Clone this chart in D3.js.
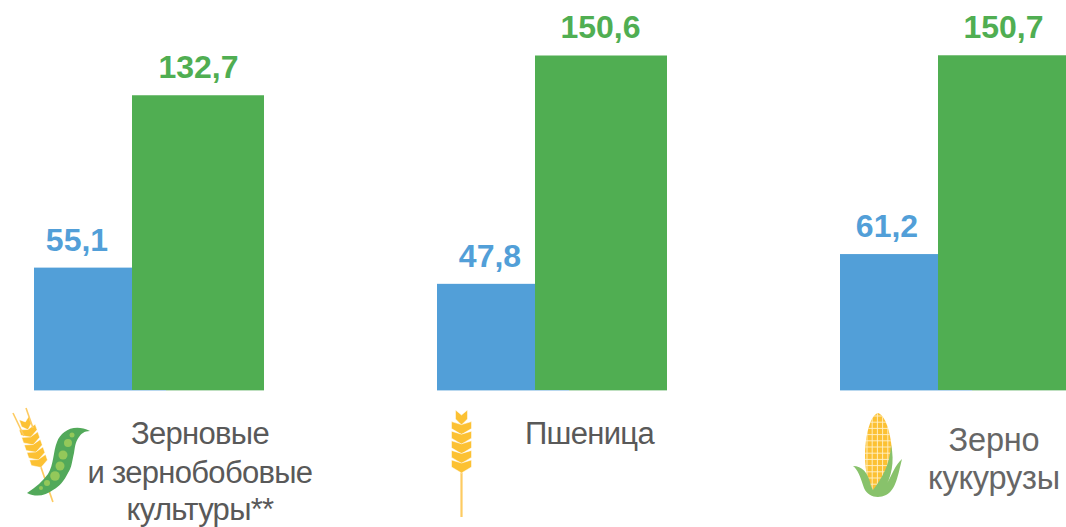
<!DOCTYPE html>
<html><head><meta charset="utf-8">
<script src="https://cdn.jsdelivr.net/npm/d3@7"></script>
<style>html,body{margin:0;padding:0;background:#fff;overflow:hidden}svg{display:block;font-family:"Liberation Sans",Arial,sans-serif}</style>
</head><body><svg id="c" width="1066" height="527"></svg>
<script>
const categories = ["Зерновые и зернобобовые культуры**", "Пшеница", "Зерно кукурузы"];
const seriesBlue = [55.1, 47.8, 61.2];
const seriesGreen = [132.7, 150.6, 150.7];
const labelLines = [["Зерновые","и зернобобовые","культуры**"],["Пшеница"],["Зерно","кукурузы"]];

const colorBlue="#529fd8", colorGreen="#50ae52", textGrey="#595959";
const svg=d3.select("#c");
const y=d3.scaleLinear().domain([0,150.6]).range([390,55.5]);
const x=d3.scaleLinear().domain([0,2]).range([34,840]);
const fmt=v=>v.toFixed(1).replace(".",",");
const blueW=98, greenW=132;

categories.forEach((c,i)=>{
  const x0=x(i), g=svg.append("g");
  g.append("rect").attr("x",x0).attr("y",390).attr("width",132).attr("height",1).attr("fill","#b9d8ef");
  g.append("rect").attr("x",x0+132).attr("y",390).attr("width",98).attr("height",1).attr("fill","#bfe0c0");
  g.append("rect").attr("x",x0).attr("y",y(seriesBlue[i])).attr("width",blueW).attr("height",390-y(seriesBlue[i])).attr("fill",colorBlue);
  g.append("rect").attr("x",x0+blueW).attr("y",y(seriesGreen[i])).attr("width",greenW).attr("height",390-y(seriesGreen[i])).attr("fill",colorGreen);
  g.append("text").attr("x",x0+[43,53,47][i]).attr("y",y(seriesBlue[i])-17).attr("text-anchor","middle")
    .attr("font-size",32).attr("font-weight","bold").attr("fill",colorBlue).text(fmt(seriesBlue[i]));
  g.append("text").attr("x",x0+[164.5,163.5,163.5][i]).attr("y",y(seriesGreen[i])-17.5).attr("text-anchor","middle")
    .attr("font-size",32).attr("font-weight","bold").attr("fill",colorGreen).text(fmt(seriesGreen[i]));
});

const labelCx=[200,589.5,994], labelY=[[444,483,520],[444],[451,489]], labelSize=[31,31,32.5];
labelLines.forEach((lines,i)=>lines.forEach((t,j)=>{
  svg.append("text").attr("x",labelCx[i]).attr("y",labelY[i][j]).attr("text-anchor","middle")
    .attr("font-size",labelSize[i]).attr("letter-spacing",i==2?-0.2:-0.7).attr("fill",i==2?"#666":textGrey).text(t);
}));

// Decorative icons
function wheat(g,sw){
  g.append("line").attr("x1",0).attr("y1",50).attr("x2",0).attr("y2",107).attr("stroke","#fdcb62").attr("stroke-width",sw);
  d3.range(6).forEach(k=>{
    const t=k*9.6, hw=k==0?6:10;
    g.append("path").attr("d",`M${-hw} ${t+(k==0?0:2)} L0 ${t+5} L${hw} ${t+(k==0?0:2)} L${hw} ${t+9} L0 ${t+15} L${-hw} ${t+9} Z`)
      .attr("fill","#fcc133").attr("stroke","#fff").attr("stroke-width",0.5);
  });
}
wheat(svg.append("g").attr("transform","translate(461.5,410)"),2.2);
wheat(svg.append("g").attr("transform","translate(24,418) rotate(-19) scale(0.85,0.83)"),2);
svg.append("g").attr("stroke","#fdcb62").attr("stroke-width",1.6).selectAll("line")
  .data([[13,413,24,436],[26,408,33,428]]).join("line")
  .attr("x1",d=>d[0]).attr("y1",d=>d[1]).attr("x2",d=>d[2]).attr("y2",d=>d[3]);

// Pea pod
svg.append("path").attr("d","M27 493 C36 487 43 481 48 474 C54 464 53 452 57 442 C61 431 74 423 90 431 C84 431 81 434 79 437 C75 442 75 448 74 453 C72 461 72 467 68 473 C64 481 60 486 53 490 C46 495 37 498 27 493 Z")
  .attr("fill","#52a95a");
[[41,488,2],[47,483,3],[55,476,4.8],[60,466,4.5],[63,455,4.5],[68,443,4],[72,435,2.5]].forEach(d=>
  svg.append("circle").attr("cx",d[0]).attr("cy",d[1]).attr("r",d[2]).attr("fill","#93c85a"));

// Corn
const corn=svg.append("g");
const clipId="cornclip";
const cob="M878 413 C887 416 892 440 892 455 C892 472 888 488 878 495 C868 488 865 472 865 455 C865 440 869 416 878 413 Z";
svg.append("clipPath").attr("id",clipId).append("path").attr("d",cob);
corn.append("path").attr("d",cob).attr("fill","#fcc133");
const grid=corn.append("g").attr("clip-path",`url(#${clipId})`).attr("stroke","#fff0c8").attr("stroke-width",0.9);
d3.range(416,498,6.2).forEach(v=>grid.append("line").attr("x1",860).attr("x2",895).attr("y1",v).attr("y2",v));
d3.range(867,892,5.2).forEach(v=>grid.append("line").attr("x1",v).attr("x2",v).attr("y1",410).attr("y2",500));
corn.append("path").attr("d","M853 466 C862 466 868 472 871 486 L873 490 C882 478 890 465 891 445 C895 462 891 478 885 487 C892 475 895 465 902 459 C898 475 896 490 886 495 C878 499 868 497 864 488 C860 476 858 470 853 466 Z").attr("fill","#88c26b");
</script></body></html>
